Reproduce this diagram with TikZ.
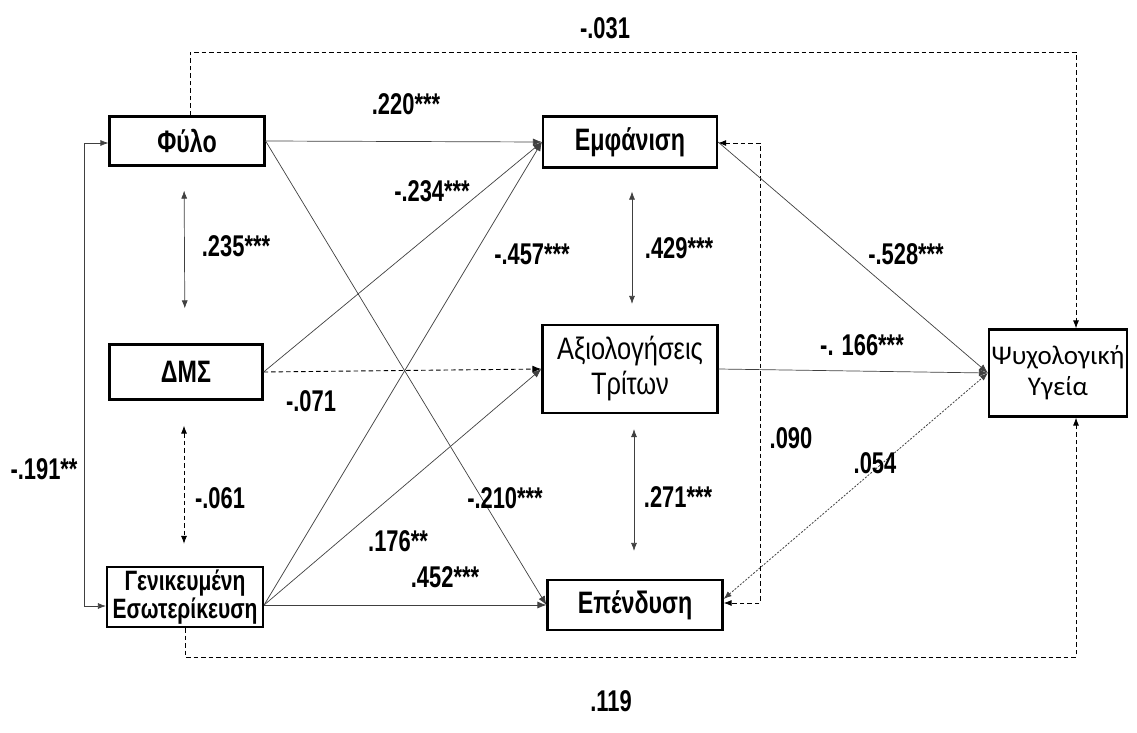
\documentclass[tikz,border=0pt]{standalone}
\usepackage{fontspec}
\setmainfont{Liberation Sans}[FakeStretch=0.73]
\newfontfamily\boxfont{Liberation Sans}[FakeStretch=0.75]
\newfontfamily\axifont{Liberation Sans}[FakeStretch=0.82]
\newfontfamily\psyfont{Carlito}
\usetikzlibrary{arrows.meta,calc}
\begin{document}
\begin{tikzpicture}[x=1pt,y=-1pt,
  box/.style={draw,line width=2.2pt,inner sep=0pt,align=center,font=\boxfont\fontsize{31}{34}\selectfont\bfseries},
  lab/.style={font=\fontsize{30}{34}\selectfont\bfseries,inner sep=0pt},
  path/.style={draw=black!75,line width=0.7pt,-{Latex[length=9pt,width=7pt]}},
  both/.style={draw=black!75,line width=0.7pt,{Latex[length=8pt,width=6pt]}-{Latex[length=8pt,width=6pt]}},
  dsh/.style={dash pattern=on 4.5pt off 3pt,draw=black,line width=0.9pt},
  dot/.style={dash pattern=on 2pt off 1.5pt,draw=black!75,line width=0.8pt}]
\useasboundingbox (0,0) rectangle (1137,733);
% boxes
\node[box,minimum width=155pt,minimum height=49pt] (fylo) at (187,141) {Φύλο};
\node[box,minimum width=153pt,minimum height=55pt] (dms) at (186,372) {ΔΜΣ};
\node[box,minimum width=156pt,minimum height=60pt,font=\boxfont\fontsize{28}{28}\selectfont\bfseries] (gen) at (185,597) {Γενικευμένη\\Εσωτερίκευση};
\node[box,minimum width=174pt,minimum height=51pt] (emf) at (630,142) {Εμφάνιση};
\node[box,minimum width=175pt,minimum height=88pt,font=\axifont\fontsize{31}{35}\selectfont] (axi) at (630,369) {Αξιολογήσεις\\Τρίτων};
\node[box,minimum width=175pt,minimum height=50pt] (epe) at (635,605) {Επένδυση};
\node[box,minimum width=138pt,minimum height=87pt,font=\psyfont\fontsize{27}{31}\selectfont] (psy) at (1058,373) {Ψυχολογική\\Υγεία};
% helper coordinates
\coordinate (T) at (1076,52);
\coordinate (B) at (1076,657);
\coordinate (L1) at (84,143);
\coordinate (L2) at (84,606);
\coordinate (R1) at (760,143);
\coordinate (R2) at (760,603);
\coordinate (gout) at ($(gen.east)+(0,8)$);
% dashed outer paths
\draw[dsh,-{Latex[length=8pt,width=6pt]}] ([xshift=3pt]fylo.north) -- ([xshift=3pt]fylo.north |- T) -- (T) -- (T |- psy.north);
\draw[dsh,-{Latex[length=8pt,width=6pt]}] (gen.south) -- (gen.south |- B) -- (B) -- (B |- psy.south);
\draw[both] (fylo.west |- L1) -- (L1) -- (L2) -- (gen.west |- L2);
\draw[dsh,{Latex[length=8pt,width=6pt]}-{Latex[length=8pt,width=6pt]}] (emf.east |- R1) -- (R1) -- (R2) -- (epe.east |- R2);
% vertical correlations
\draw[both,shorten <=24pt,shorten >=35pt] ([xshift=-3pt]fylo.south) -- ([xshift=-2pt]fylo.south |- dms.north);
\draw[dsh,{Latex[length=8pt,width=6pt]}-{Latex[length=8pt,width=6pt]},shorten <=25pt,shorten >=22pt] ([xshift=-2pt]dms.south) -- ([xshift=-2pt]dms.south |- gen.north);
\draw[both,shorten <=23pt,shorten >=20pt] ([xshift=2pt]emf.south) -- ([xshift=2pt]emf.south |- axi.north);
\draw[both,shorten <=15pt,shorten >=28pt] ([xshift=4pt]axi.south) -- ([xshift=4pt]axi.south |- epe.north);
% paths
\draw[path] (fylo.east) -- (emf.west);
\draw[path] (fylo.east) -- (epe.west);
\draw[path] (dms.east) -- (emf.west);
\draw[dsh,-{Latex[length=9pt,width=7pt]}] (dms.east) -- (axi.west);
\draw[path] (gout) -- (emf.west);
\draw[path] (gout) -- (axi.west);
\draw[path] (gout) -- (epe.west);
\draw[path] (emf.east) -- (psy.west);
\draw[path] (axi.east) -- (psy.west);
\draw[dot,{Latex[length=8pt,width=6pt]}-{Latex[length=8pt,width=6pt]}] ([yshift=6pt]epe.east) -- (psy.west);
% labels
\node[lab] (l1) at (605,28) {-.031};
\node[lab] (l2) at (406,104) {.220***};
\node[lab] (l3) at (432,191) {-.234***};
\node[lab] (l4) at (236,246) {.235***};
\node[lab] (l5) at (532,254) {-.457***};
\node[lab] (l6) at (679,248) {.429***};
\node[lab] (l7) at (906,254) {-.528***};
\node[lab] (l8) at (862,345) {-. 166***};
\node[lab] (l9) at (311,401) {-.071};
\node[lab] (l10) at (791,438) {.090};
\node[lab] (l11) at (44,469) {-.191**};
\node[lab] (l12) at (875,463) {.054};
\node[lab] (l13) at (220,498) {-.061};
\node[lab] (l14) at (505,498) {-.210***};
\node[lab] (l15) at (678,497) {.271***};
\node[lab] (l16) at (398,541) {.176**};
\node[lab] (l17) at (445,577) {.452***};
\node[lab] (l18) at (611,701) {.119};
\end{tikzpicture}
\end{document}
